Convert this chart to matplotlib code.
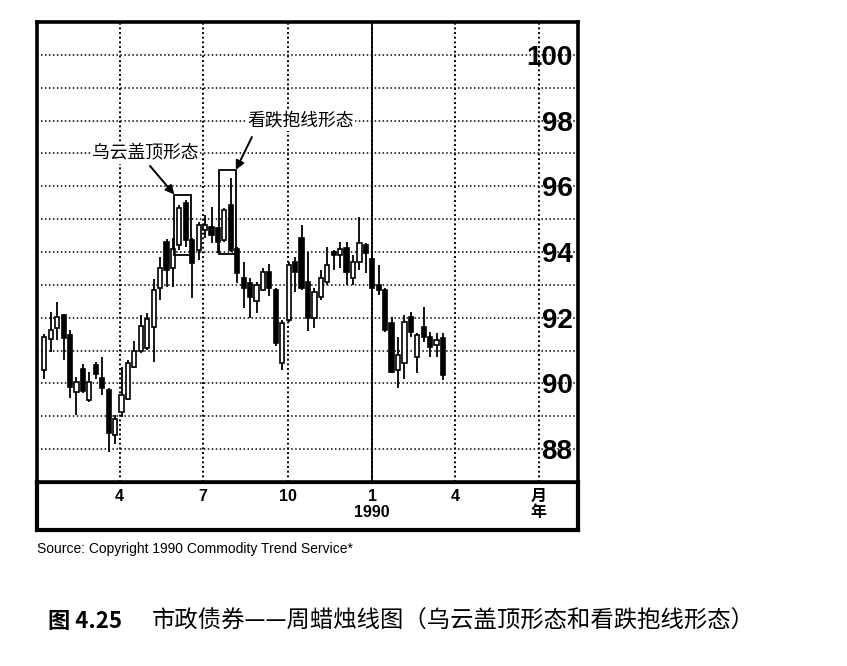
import matplotlib.pyplot as plt
import matplotlib.dates as mdates
from matplotlib.patches import Rectangle
import pandas as pd

# weekly candles, first week of Jan 1989 .. Mar 1990
week_start = '1989-01-09'
opens = [90.40, 91.35, 91.68, 92.08, 91.47, 89.75, 90.45, 89.50, 90.55, 90.15,
         89.80, 88.43, 89.14, 89.54, 90.51, 91.00, 91.07, 91.72, 92.90, 94.30,
         93.50, 94.21, 95.48, 94.37, 94.06, 94.67, 94.77, 94.72, 94.37, 95.43,
         94.10, 93.20, 93.05, 92.50, 92.84, 93.40, 92.84, 90.61, 91.93, 93.70,
         94.42, 93.10, 91.98, 92.64, 93.10, 94.00, 93.90, 94.11, 93.20, 93.70,
         94.21, 93.80, 93.00, 92.84, 91.83, 90.41, 90.61, 92.03, 90.81, 91.72,
         91.42, 91.17, 91.37]
highs = [91.50, 92.18, 92.49, 92.10, 91.62, 90.20, 90.60, 90.35, 90.66, 90.81,
         89.86, 89.04, 90.50, 90.71, 91.30, 92.08, 92.13, 93.18, 93.86, 94.40,
         94.42, 95.43, 95.58, 94.42, 94.92, 95.13, 95.38, 94.77, 95.33, 96.25,
         94.16, 93.70, 93.20, 93.10, 93.50, 93.65, 92.90, 91.93, 93.70, 93.86,
         94.82, 94.00, 92.90, 93.45, 94.16, 94.05, 94.31, 94.31, 93.90, 95.08,
         94.27, 93.96, 93.60, 92.90, 92.03, 91.42, 92.08, 92.18, 91.52, 92.33,
         91.57, 91.52, 91.52]
lows = [90.15, 90.96, 91.32, 90.71, 89.55, 89.04, 89.72, 89.45, 90.15, 89.64,
        87.92, 88.17, 88.98, 89.49, 90.46, 90.93, 91.02, 90.66, 92.54, 92.95,
        92.94, 94.06, 94.16, 92.59, 93.76, 94.42, 94.27, 93.96, 94.31, 94.00,
        93.05, 92.30, 91.98, 92.15, 92.80, 92.65, 91.15, 90.41, 91.88, 92.79,
        92.84, 91.60, 91.68, 92.54, 93.00, 93.45, 93.50, 93.00, 93.00, 93.45,
        93.35, 92.90, 92.69, 91.57, 90.31, 89.85, 90.15, 91.42, 90.31, 91.27,
        90.81, 90.81, 90.10]
closes = [91.40, 91.62, 92.03, 91.38, 89.90, 90.05, 89.78, 90.05, 90.30, 89.85,
          88.48, 88.93, 89.64, 90.61, 91.00, 91.75, 91.95, 92.84, 93.50, 93.45,
          94.10, 95.33, 94.37, 93.66, 94.82, 94.82, 94.52, 94.31, 95.28, 94.06,
          93.35, 92.90, 92.64, 93.00, 93.38, 92.90, 91.22, 91.83, 93.60, 93.40,
          92.90, 92.00, 92.79, 93.20, 93.60, 93.90, 94.10, 93.40, 93.70, 94.27,
          93.96, 92.90, 92.85, 91.62, 90.35, 90.86, 91.88, 91.57, 91.47, 91.42,
          91.12, 91.32, 90.25]

month_ticks = ['1989-04-01', '1989-07-01', '1989-10-01', '1990-01-01', '1990-04-01', '1990-07-01']
month_labels = ['4', '7', '10', '1\n1990', '4', '月\n年']
price_ticks = [88, 90, 92, 94, 96, 98, 100]

dark_cloud = [21, 22]      # candle indices in the boxes
engulfing = [28, 29]

cjk = ['Noto Sans CJK SC', 'DejaVu Sans']
narrow = ['Liberation Sans Narrow', 'Liberation Sans', 'DejaVu Sans']

dates = mdates.date2num(pd.date_range(week_start, periods=len(opens), freq='7D'))
d = lambda s: mdates.datestr2num(s)

fig = plt.figure(figsize=(8.47, 6.66), dpi=100)
L, W = 37 / 847, 541 / 847

# date band under the chart
axb = fig.add_axes([L, 1 - 530 / 666, W, 48 / 666])
axb.set_xticks([])
axb.set_yticks([])
for s in axb.spines.values():
    s.set_linewidth(3)

ax = fig.add_axes([L, 1 - 482 / 666, W, 460 / 666])
for s in ax.spines.values():
    s.set_linewidth(2.6)

# candles
ax.vlines(dates, lows, highs, color='black', lw=1.3, zorder=3)
bottoms = [min(o, c) for o, c in zip(opens, closes)]
heights = [max(abs(c - o), 0.06) for o, c in zip(opens, closes)]
colors = ['white' if c >= o else 'black' for o, c in zip(opens, closes)]
ax.bar(dates, heights, bottom=bottoms, width=4.6, color=colors,
       edgecolor='black', linewidth=1.2, zorder=4)

ax.set_xlim(d('1989-01-01'), d('1990-08-13'))
ax.set_ylim(87, 101)

# grid
ax.set_yticks(price_ticks)
ax.set_yticks(range(88, 101), minor=True)
ax.grid(which='both', axis='y', color='black', lw=1.1, ls=(0, (1, 1.6)))
ax.set_xticks([d(m) for m in month_ticks], month_labels)
ax.grid(axis='x', color='black', lw=1.4, ls=(0, (1, 1.4)))
ax.axvline(d('1990-01-01'), color='black', lw=1.3, zorder=2)

ax.tick_params(axis='x', length=0, pad=5, labelsize=11.5)
for lab in ax.get_xticklabels():
    lab.set_fontweight('bold')
    lab.set_fontfamily(['Liberation Sans', 'Noto Sans CJK SC'])
    lab.set_linespacing(1.1)

ax.yaxis.tick_right()
ax.tick_params(axis='y', which='both', length=0, pad=-4, labelsize=20)
for t in ax.yaxis.get_major_ticks():
    t.label2.set_ha('right')
    t.label2.set_fontweight('bold')
    t.label2.set_fontfamily(narrow)

# pattern boxes
half = 5.5
b1x0 = dates[dark_cloud[0]] - half
b1x1 = dates[dark_cloud[-1]] + half
b1y0 = min(lows[i] for i in dark_cloud) - 0.15
b1y1 = max(highs[i] for i in dark_cloud) + 0.17
ax.add_patch(Rectangle((b1x0, b1y0), b1x1 - b1x0, b1y1 - b1y0, fill=False,
                       lw=1.3, ec='black', zorder=5))
b2x0 = dates[engulfing[0]] - half
b2x1 = dates[engulfing[-1]] + half
b2y0 = min(lows[i] for i in engulfing) - 0.05
b2y1 = max(highs[i] for i in engulfing) + 0.25
ax.add_patch(Rectangle((b2x0, b2y0), b2x1 - b2x0, b2y1 - b2y0, fill=False,
                       lw=1.3, ec='black', zorder=5))

box = dict(fc='white', ec='none', pad=1)
ax.text(d('1989-04-29'), 97, '乌云盖顶形态', ha='center', va='center',
        fontsize=12.8, family=cjk, bbox=box, zorder=6)
ax.text(d('1989-10-15'), 98, '看跌抱线形态', ha='center', va='center',
        fontsize=12.8, family=cjk, bbox=box, zorder=6)
arrow = dict(arrowstyle='-|>', color='black', lw=1.4, mutation_scale=13,
             shrinkA=0, shrinkB=0)
ax.annotate('', xy=(b1x0, b1y1), xytext=(d('1989-05-04'), 96.62), arrowprops=arrow, zorder=6)
ax.annotate('', xy=(b2x1, b2y1), xytext=(d('1989-08-23'), 97.5), arrowprops=arrow, zorder=6)

fig.text(37 / 847, 1 - 549 / 666, 'Source: Copyright 1990 Commodity Trend Service*',
         fontsize=10, family='Liberation Sans', va='center')
fig.text(48 / 847, 1 - 621 / 666, '图 4.25', fontsize=16, weight='bold',
         family=cjk, va='center')
fig.text(152 / 847, 1 - 621 / 666, '市政债券——周蜡烛线图（乌云盖顶形态和看跌抱线形态）',
         fontsize=16.8, family=cjk, va='center')

fig.savefig('out.png', dpi=100)
